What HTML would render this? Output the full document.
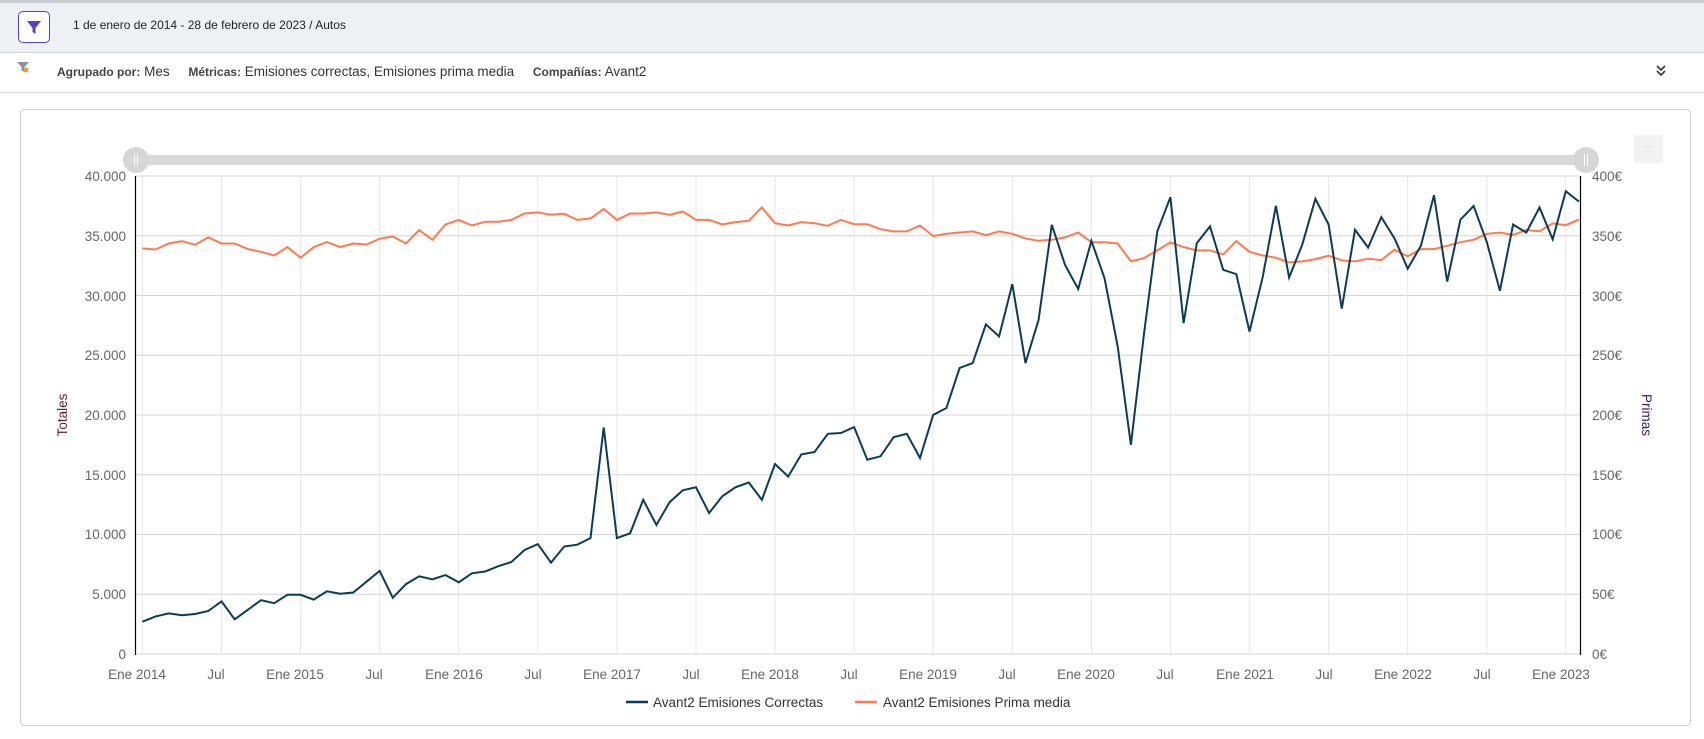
<!DOCTYPE html>
<html><head><meta charset="utf-8">
<style>
html,body{margin:0;padding:0;width:1704px;height:739px;overflow:hidden;background:#fff;font-family:"Liberation Sans",sans-serif;}
.hdr{position:absolute;left:0;top:0;width:1704px;height:53px;background:#eef1f4;border-top:3px solid #c9ccd0;box-sizing:border-box;border-bottom:1px solid #cfd3d8;}
.fbtn{position:absolute;left:18px;top:8px;width:30px;height:30px;border:1.5px solid #5b3fc4;border-radius:5px;background:#fff;}
.htext{position:absolute;left:73px;top:15px;font-size:12px;color:#222;}
.frow{position:absolute;left:0;top:53px;width:1704px;height:39px;border-bottom:1px solid #d5d5d5;font-size:13.5px;color:#333;}
.frow b{font-weight:bold;font-size:12px;color:#444;}
.card{position:absolute;left:20px;top:109px;width:1671px;height:617px;border:1px solid #cfcfcf;border-radius:4px;box-sizing:border-box;}
</style></head><body>
<div class="hdr">
 <div class="fbtn"><svg width="30" height="30" viewBox="0 0 30 30"><path d="M8 9 H22 L16.5 16 V22 L13.5 20 V16 Z" fill="#5b3fc4"/></svg></div>
 <div class="htext">1 de enero de 2014 - 28 de febrero de 2023 / Autos</div>
</div>
<div class="frow">
 <svg style="position:absolute;left:16px;top:7px" width="14" height="14" viewBox="0 0 14 14"><path d="M1 2 H13 L8.5 7 V12 L5.5 10.5 V7 Z" fill="#8a9199"/><circle cx="10" cy="10" r="2.5" fill="#f0a040"/></svg>
 <div style="position:absolute;left:57px;top:11px;white-space:nowrap"><b>Agrupado por:</b> Mes&nbsp;&nbsp;&nbsp;&nbsp; <b>Métricas:</b> Emisiones correctas, Emisiones prima media&nbsp;&nbsp;&nbsp;&nbsp; <b>Compañías:</b> Avant2</div>
 <svg style="position:absolute;left:1654px;top:10px" width="14" height="14" viewBox="0 0 14 14"><path d="M3 3 L7 7 L11 3 M3 8 L7 12 L11 8" stroke="#333" stroke-width="1.6" fill="none"/></svg>
</div>
<div class="card"></div>
<svg id="ch" style="position:absolute;left:0;top:0" width="1704" height="739" font-family="Liberation Sans, sans-serif">
 <rect x="1634" y="135" width="29" height="28" rx="2" fill="#f2f2f2"/>
 <text x="1648" y="149" font-size="9" fill="#bbb" text-anchor="middle">···</text>
 <rect x="136" y="155" width="1451" height="10" rx="3" fill="#d9d9d9"/>
 <circle cx="136" cy="160" r="13" fill="#d6d6d6"/><line x1="134.5" y1="154" x2="134.5" y2="166" stroke="#fff"/><line x1="137.5" y1="154" x2="137.5" y2="166" stroke="#fff"/>
 <circle cx="1586" cy="160" r="13" fill="#d6d6d6"/><line x1="1584.5" y1="154" x2="1584.5" y2="166" stroke="#fff"/><line x1="1587.5" y1="154" x2="1587.5" y2="166" stroke="#fff"/>
 <g id="grid"></g>
 <g font-size="13.5" fill="#666" text-anchor="end">
  <text x="126" y="181">40.000</text><text x="126" y="241">35.000</text><text x="126" y="301">30.000</text><text x="126" y="360">25.000</text><text x="126" y="420">20.000</text><text x="126" y="480">15.000</text><text x="126" y="539">10.000</text><text x="126" y="599">5.000</text><text x="126" y="659">0</text>
 </g>
 <g font-size="13.5" fill="#666">
  <text x="1592" y="181">400€</text><text x="1592" y="241">350€</text><text x="1592" y="301">300€</text><text x="1592" y="360">250€</text><text x="1592" y="420">200€</text><text x="1592" y="480">150€</text><text x="1592" y="539">100€</text><text x="1592" y="599">50€</text><text x="1592" y="659">0€</text>
 </g>
 <g font-size="13.5" fill="#666" text-anchor="middle">
  <text x="137" y="679">Ene 2014</text><text x="216" y="679">Jul</text><text x="295" y="679">Ene 2015</text><text x="374" y="679">Jul</text><text x="454" y="679">Ene 2016</text><text x="533" y="679">Jul</text><text x="612" y="679">Ene 2017</text><text x="691" y="679">Jul</text><text x="770" y="679">Ene 2018</text><text x="849" y="679">Jul</text><text x="928" y="679">Ene 2019</text><text x="1007" y="679">Jul</text><text x="1086" y="679">Ene 2020</text><text x="1165" y="679">Jul</text><text x="1245" y="679">Ene 2021</text><text x="1324" y="679">Jul</text><text x="1403" y="679">Ene 2022</text><text x="1482" y="679">Jul</text><text x="1561" y="679">Ene 2023</text>
 </g>
 <text transform="translate(67,415) rotate(-90)" font-size="13.5" fill="#5a1e24" text-anchor="middle">Totales</text>
 <text transform="translate(1642,415) rotate(90)" font-size="13.5" fill="#3a1d4a" text-anchor="middle">Primas</text>
 <line x1="135.5" y1="176" x2="135.5" y2="655" stroke="#000" stroke-width="1.2"/>
 <line x1="1580.5" y1="176" x2="1580.5" y2="655" stroke="#000" stroke-width="1.2"/>
 <polyline id="po" fill="none" stroke="#ff7a4f" stroke-width="2"/>
 <polyline id="pn" fill="none" stroke="#0d3b54" stroke-width="2"/>
 <line x1="626" y1="702" x2="648" y2="702" stroke="#0d3b54" stroke-width="2.5"/>
 <text x="653" y="707" font-size="13.5" fill="#333">Avant2 Emisiones Correctas</text>
 <line x1="855" y1="702" x2="877" y2="702" stroke="#ff7a4f" stroke-width="2.5"/>
 <text x="883" y="707" font-size="13.5" fill="#333">Avant2 Emisiones Prima media</text>
</svg>
<script>
var N=[2700,3150,3400,3250,3350,3600,4400,2900,3700,4500,4250,4950,4950,4550,5250,5050,5150,6050,6950,4700,5850,6500,6250,6600,6000,6750,6900,7350,7700,8700,9200,7650,9000,9150,9700,18950,9700,10100,12900,10800,12700,13700,13950,11800,13200,13950,14350,12900,15900,14850,16700,16900,18430,18490,18990,16260,16540,18150,18430,16400,20020,20580,23930,24340,27580,26580,30950,24340,27970,35920,32570,30540,34580,31460,25740,17510,26860,35360,38230,27690,34380,35780,32150,31790,26990,31540,37510,31510,34240,38090,35940,28900,35500,34020,36560,34790,32250,34170,38390,31160,36340,37490,34480,30390,35940,35260,37360,34700,38730,37860];
var O=[33940,33850,34350,34550,34240,34860,34350,34350,33880,33660,33350,34050,33160,34050,34470,34050,34350,34270,34750,34940,34350,35470,34660,35940,36330,35860,36170,36170,36330,36860,36950,36750,36840,36330,36440,37250,36330,36860,36860,36950,36750,37030,36330,36330,35940,36140,36250,37370,36050,35860,36140,36050,35830,36330,35970,35970,35550,35360,35360,35860,34970,35160,35270,35360,35050,35360,35160,34770,34580,34660,34860,35270,34460,34460,34350,32850,33130,33770,34440,34050,33770,33770,33440,34550,33660,33350,33160,32770,32850,33050,33330,32940,32850,33080,32960,33830,33270,33880,33880,34160,34460,34660,35160,35260,35070,35470,35380,36030,35880,36370];
function X(m){return 142.4+m*13.18;}function Y(v){return 654-v*478/40000;}
function pts(a){return a.map(function(v,i){return X(i).toFixed(1)+","+Y(v).toFixed(1)}).join(" ");}
document.getElementById("pn").setAttribute("points",pts(N));
document.getElementById("po").setAttribute("points",pts(O));
var g="";for(var k=0;k<=8;k++){var y=(176+k*59.75).toFixed(1);g+='<line x1="135" y1="'+y+'" x2="1580" y2="'+y+'" stroke="#d4d4d4" stroke-width="1"/>';}
for(var m=0;m<=108;m+=6){var x=X(m).toFixed(1);g+='<line x1="'+x+'" y1="176" x2="'+x+'" y2="654" stroke="#e6e6e6" stroke-width="1"/>';}
document.getElementById("grid").innerHTML=g;
</script>
</body></html>
